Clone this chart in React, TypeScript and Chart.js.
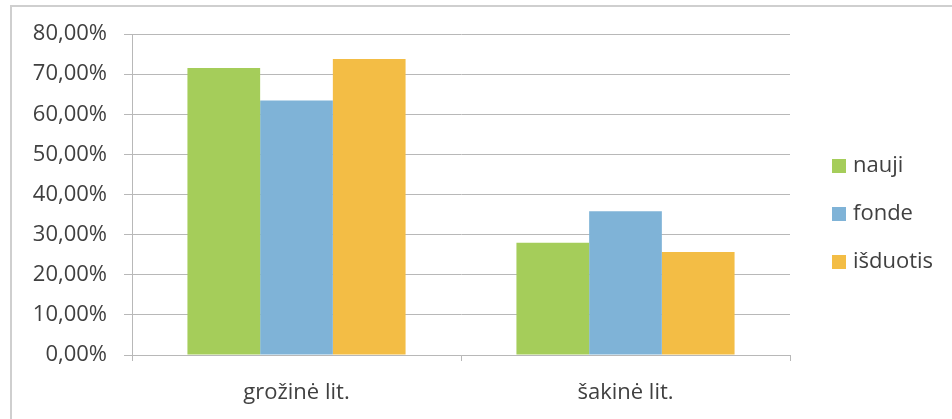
import React, { useEffect, useRef } from "react";
import { Chart, registerables } from "chart.js";

Chart.register(...registerables);

const categories = ["grožinė lit.", "šakinė lit."];
const seriesNames = ["nauji", "fonde", "išduotis"];
const nauji = [71.5, 28.0];
const fonde = [63.4, 35.8];
const isduotis = [73.8, 25.7];
const seriesColors = ["#a5cd5a", "#7fb3d7", "#f3bd45"];
const yTicks = [0, 10, 20, 30, 40, 50, 60, 70, 80];

const FONT = "'Open Sans', 'Noto Sans', sans-serif";
const TEXT = "#404040";
const GRID = "#b8b8b8";

const framePlugin = {
  id: "frame",
  beforeDraw(chart: any) {
    const ctx = chart.ctx;
    ctx.save();
    ctx.fillStyle = "#ffffff";
    ctx.fillRect(0, 0, chart.width, chart.height);
    ctx.strokeStyle = "#cfcfcf";
    ctx.lineWidth = 2;
    ctx.beginPath();
    ctx.moveTo(11, chart.height);
    ctx.lineTo(11, 6);
    ctx.lineTo(chart.width, 6);
    ctx.stroke();
    ctx.restore();
  },
};

const legendPlugin = {
  id: "customLegend",
  afterDraw(chart: any) {
    const ctx = chart.ctx;
    const area = chart.chartArea;
    const x0 = area.right + 42;
    const yStart = 166;
    const step = 48;
    ctx.save();
    ctx.font = `22px ${FONT}`;
    ctx.textBaseline = "middle";
    ctx.textAlign = "left";
    chart.data.datasets.forEach((ds: any, i: number) => {
      const y = yStart + i * step;
      ctx.fillStyle = ds.backgroundColor;
      ctx.fillRect(x0, y - 7, 14, 14);
      ctx.fillStyle = TEXT;
      ctx.fillText(ds.label, x0 + 21, y);
    });
    ctx.restore();
  },
};

export default function App() {
  const ref = useRef<HTMLCanvasElement | null>(null);
  useEffect(() => {
    if (!ref.current) return;
    const chart = new Chart(ref.current, {
      type: "bar",
      data: {
        labels: categories,
        datasets: [
          { label: seriesNames[0], data: nauji, backgroundColor: seriesColors[0] },
          { label: seriesNames[1], data: fonde, backgroundColor: seriesColors[1] },
          { label: seriesNames[2], data: isduotis, backgroundColor: seriesColors[2] },
        ],
      },
      options: {
        animation: false,
        responsive: false,
        maintainAspectRatio: false,
        layout: { padding: { left: 0, top: 34, right: 162, bottom: 0 } },
        datasets: { bar: { barPercentage: 1, categoryPercentage: 0.663 } },
        plugins: { legend: { display: false }, tooltip: { enabled: false } },
        scales: {
          x: {
            grid: {
              drawOnChartArea: false,
              drawTicks: true,
              tickLength: 6,
              color: GRID,
              offset: true,
            },
            border: { display: true, color: GRID, width: 1 },
            ticks: { color: TEXT, font: { family: FONT, size: 22 }, padding: 19 },
            afterFit(scale: any) {
              scale.height = 64;
              scale.paddingLeft = 0;
              scale.paddingRight = 0;
            },
          },
          y: {
            min: 0,
            max: 80,
            afterBuildTicks(scale: any) {
              scale.ticks = yTicks.map((v) => ({ value: v }));
            },
            grid: { color: GRID, tickLength: 8, drawTicks: true },
            border: { display: true, color: GRID, width: 1 },
            ticks: {
              color: TEXT,
              font: { family: FONT, size: 22 },
              padding: 17,
              callback: (v: any) => Number(v).toFixed(2).replace(".", ",") + "%",
            },
            afterFit(scale: any) {
              scale.width = 132;
              scale.paddingTop = 0;
              scale.paddingBottom = 0;
            },
          },
        },
      },
      plugins: [framePlugin, legendPlugin],
    });
    return () => chart.destroy();
  }, []);
  return (
    <div style={{ position: "fixed", left: 0, top: 0, width: 952, height: 419, background: "#fff" }}>
      <canvas ref={ref} width={952} height={419} style={{ width: 952, height: 419, display: "block" }} />
    </div>
  );
}
